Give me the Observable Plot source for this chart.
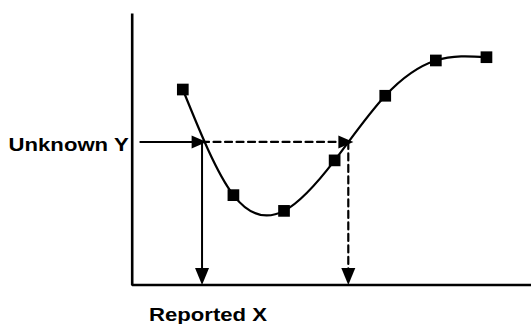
<!DOCTYPE html>
<html>
<head>
<meta charset="utf-8">
<script src="https://cdn.jsdelivr.net/npm/d3@7"></script>
<script src="https://cdn.jsdelivr.net/npm/@observablehq/plot@0.6"></script>
<style>
  html, body { margin: 0; padding: 0; background: #fff; overflow: hidden; }
  svg { display: block; }
</style>
</head>
<body>
<div id="chart"></div>
<script>
// Calibration points (x index, response)
const xs = [1, 2, 3, 4, 5, 6, 7];
const ys = [7.2, 3.31, 2.73, 4.59, 6.97, 8.27, 8.39];

// Read-back construction
const unknownY = 5.27;
const arrowInStart = 0.16;
const reportedX = [1.38, 4.27];   // solid (reported) and dashed (alternative) verticals
const arrowTips = [1.47, 4.37];   // tips of horizontal arrowheads

const labelY = "Unknown Y";
const labelX = "Reported X";

const curveData = xs.map((x, i) => ({x, y: ys[i]}));
const axisData = [{x: 0, y: 10}, {x: 0, y: 0}, {x: 7.89, y: 0}];

const headRight = {
  draw(ctx) {
    ctx.moveTo(0, 0);
    ctx.lineTo(-15, -6.5);
    ctx.lineTo(-15, 6.5);
    ctx.closePath();
  }
};
const headDown = {
  draw(ctx) {
    ctx.moveTo(0, 0);
    ctx.lineTo(-17, -7);
    ctx.lineTo(-17, 7);
    ctx.closePath();
  }
};

const font = "Liberation Sans, Arial, Helvetica, sans-serif";

const chart = Plot.plot({
  width: 531,
  height: 324,
  marginLeft: 131.7,
  marginRight: 0,
  marginTop: 13,
  marginBottom: 39.5,
  x: {domain: [0, 7.89], axis: null},
  y: {domain: [0, 10], axis: null},
  style: {background: "#fff"},
  marks: [
    // axes (L shape)
    Plot.line(axisData, {x: "x", y: "y", stroke: "#000", strokeWidth: 2.6, strokeLinejoin: "miter", strokeLinecap: "butt"}),
    // curve
    Plot.line(curveData, {x: "x", y: "y", curve: "natural", stroke: "#000", strokeWidth: 2.2}),
    // solid horizontal arrow
    Plot.line([{x: arrowInStart, y: unknownY}, {x: arrowTips[0] - 0.1, y: unknownY}], {x: "x", y: "y", stroke: "#000", strokeWidth: 2}),
    // dashed horizontal arrow
    Plot.line([{x: reportedX[0], y: unknownY}, {x: arrowTips[1] - 0.1, y: unknownY}], {x: "x", y: "y", stroke: "#000", strokeWidth: 2.2, strokeDasharray: "7,4.5"}),
    // solid vertical arrow
    Plot.line([{x: reportedX[0], y: unknownY}, {x: reportedX[0], y: 0.3}], {x: "x", y: "y", stroke: "#000", strokeWidth: 2}),
    // dashed vertical arrow
    Plot.line([{x: reportedX[1], y: unknownY}, {x: reportedX[1], y: 0.3}], {x: "x", y: "y", stroke: "#000", strokeWidth: 2.2, strokeDasharray: "7,4.5"}),
    // arrowheads
    Plot.dot(arrowTips, {x: d => d, y: () => unknownY, symbol: headRight, fill: "#000", stroke: null, r: 5}),
    Plot.dot(reportedX, {x: d => d, y: () => 0, symbol: headDown, rotate: 90, fill: "#000", stroke: null, r: 5}),
    // markers
    Plot.dot(curveData, {x: "x", y: "y", symbol: "square", r: 6.6, fill: "#000", stroke: null}),
    // labels
    Plot.text([labelY], {x: -0.07, y: unknownY, text: d => d, textAnchor: "end", lineAnchor: "middle", dy: 3.5, fontSize: 18.6, fontWeight: "bold", fontFamily: font, fill: "#000"}),
    Plot.text([labelX], {x: reportedX[0], y: -1.31, text: d => d, textAnchor: "middle", lineAnchor: "bottom", dx: 6, fontSize: 18.6, fontWeight: "bold", fontFamily: font, fill: "#000"})
  ]
});

document.getElementById("chart").appendChild(chart);

// The reference lettering is slightly wide; stretch glyphs to match
chart.querySelectorAll("text").forEach(t => {
  const w = t.getComputedTextLength();
  if (w > 0) {
    t.setAttribute("textLength", (w * 1.19).toFixed(1));
    t.setAttribute("lengthAdjust", "spacingAndGlyphs");
  }
});
</script>
</body>
</html>
